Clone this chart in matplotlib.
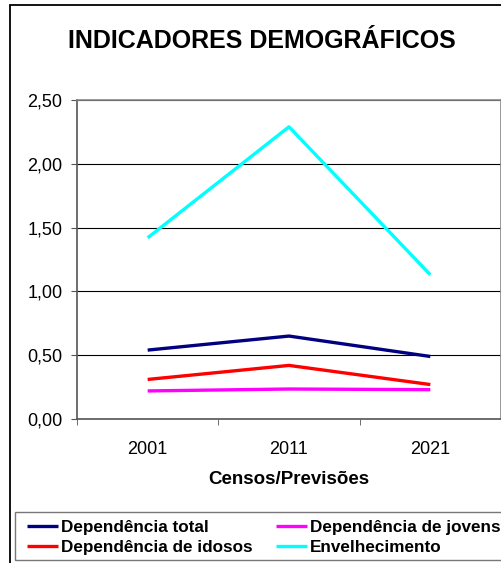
import matplotlib
matplotlib.use("Agg")
import matplotlib.pyplot as plt
from matplotlib.patches import Rectangle
from matplotlib.ticker import FixedLocator, FuncFormatter

plt.rcParams['font.family'] = ['Liberation Sans', 'DejaVu Sans']

years = ["2001", "2011", "2021"]
dep_total = [0.54, 0.65, 0.49]
dep_jovens = [0.22, 0.235, 0.23]
dep_idosos = [0.31, 0.42, 0.27]
envelhecimento = [1.42, 2.29, 1.13]

W, H = 502, 563
fig = plt.figure(figsize=(W / 100, H / 100), dpi=100)
ax = fig.add_axes([77 / W, 1 - 419 / H, 424 / W, 319 / H])

x = list(range(len(years)))
l1, = ax.plot(x, dep_total, color='#000080', lw=2.4, solid_capstyle='butt')
l2, = ax.plot(x, dep_jovens, color='#FF00FF', lw=2.4, solid_capstyle='butt')
l3, = ax.plot(x, dep_idosos, color='#FF0000', lw=2.4, solid_capstyle='butt')
l4, = ax.plot(x, envelhecimento, color='#00FFFF', lw=2.4, solid_capstyle='butt')

ax.set_xlim(-0.5, len(years) - 0.5)
ax.set_ylim(0, 2.5)
ax.set_yticks([0, 0.5, 1.0, 1.5, 2.0, 2.5])
ax.yaxis.set_major_formatter(FuncFormatter(lambda v, p: f"{v:.2f}".replace('.', ',')))
ax.set_xticks(x)
ax.set_xticklabels(years)
ax.xaxis.set_minor_locator(FixedLocator([i - 0.5 for i in range(len(years) + 1)]))
ax.tick_params(axis='x', which='major', length=0, labelsize=13, pad=16)
ax.tick_params(axis='x', which='minor', length=4.5, direction='out', color='#555555')
ax.tick_params(axis='y', length=4.5, direction='out', labelsize=13, color='#555555', pad=6)
ax.grid(axis='y', color='black', lw=0.8)
ax.set_axisbelow(True)
for s in ['left', 'bottom']:
    ax.spines[s].set_color('#555555')
    ax.spines[s].set_linewidth(1.2)
for s in ['top', 'right']:
    ax.spines[s].set_color('#888888')
    ax.spines[s].set_linewidth(1.2)

ax.set_xlabel("Censos/Previsões", fontsize=13.5, fontweight='bold', labelpad=9.5)

fig.text(262 / W, 1 - 48 / H, "INDICADORES DEMOGRÁFICOS", fontsize=18,
         fontweight='bold', ha='center', va='baseline')

# outer chart frame
fig.patches.append(Rectangle((10 / W, -0.1), 1.2, 1 - 5 / H + 0.1, transform=fig.transFigure,
                             fill=False, edgecolor='black', lw=1.3, clip_on=False))
# legend frame
fig.patches.append(Rectangle((15 / W, 1 - 560 / H), 1.0, 48 / H, transform=fig.transFigure,
                             fill=False, edgecolor='#777777', lw=1.0, clip_on=False))

leg_kw = dict(loc='center left', prop={'weight': 'bold', 'size': 12.3}, frameon=False,
              handlelength=1.8, handletextpad=0.2, borderpad=0, labelspacing=0.25,
              borderaxespad=0)
fig.legend([l1, l3], ["Dependência total", "Dependência de idosos"],
           bbox_to_anchor=(27 / W, 1 - 537.5 / H), **leg_kw)
fig.legend([l2, l4], ["Dependência de jovens", "Envelhecimento"],
           bbox_to_anchor=(276 / W, 1 - 537.5 / H), **leg_kw)

fig.savefig("out.png", dpi=100)
